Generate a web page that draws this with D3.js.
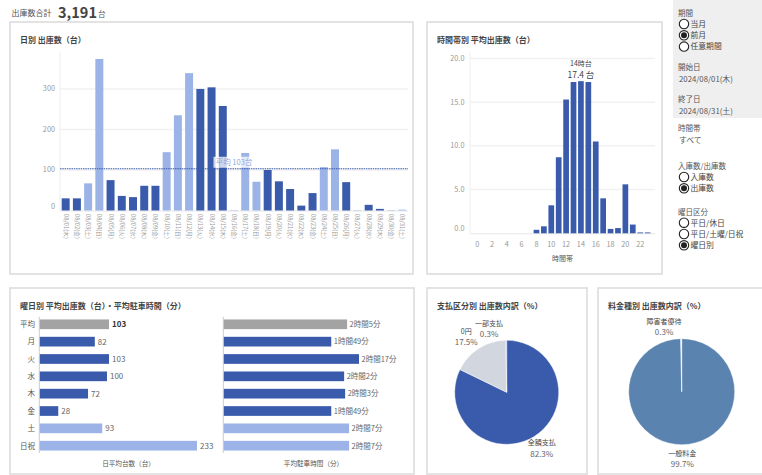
<!DOCTYPE html>
<html><head><meta charset="utf-8">
<script src="https://cdn.jsdelivr.net/npm/d3@7"></script>
<style>
body{margin:0;background:#fff;}
svg{display:block;font-family:"Noto Sans CJK JP","Noto Sans",sans-serif;}
</style></head><body>
<svg id="c" width="762" height="475"></svg>
<script>
// ---------- data ----------
const totalLabel = "出庫数合計";
const totalValue = "3,191";
const totalUnit = "台";

const days = ["08/01(木)","08/02(金)","08/03(土)","08/04(日)","08/05(月)","08/06(火)","08/07(水)","08/08(木)","08/09(金)","08/10(土)","08/11(日)","08/12(月)","08/13(火)","08/14(水)","08/15(木)","08/16(金)","08/17(土)","08/18(日)","08/19(月)","08/20(火)","08/21(水)","08/22(木)","08/23(金)","08/24(土)","08/25(日)","08/26(月)","08/27(火)","08/28(水)","08/29(木)","08/30(金)","08/31(土)"];
const dailyValues = [30,30,67,374,75,36,33,61,61,144,235,339,300,304,258,1,142,71,100,72,53,12,43,107,151,70,1,14,4,1,2];
const dailyHoliday = [0,0,1,1,0,0,0,0,0,1,1,1,0,0,0,1,1,1,0,0,0,0,0,1,1,0,1,0,0,1,1];
const dailyTicks = [0,100,200,300];
const dailyAverage = 103;

const hours = [0,1,2,3,4,5,6,7,8,9,10,11,12,13,14,15,16,17,18,19,20,21,22,23];
const hourlyValues = [0,0,0,0,0,0,0,0,0.4,0.8,3.2,8.7,15.3,17.3,17.4,17.3,10.5,4.0,0.5,0.6,5.6,1.0,0.1,0.1];
const hourTicks = [0,2,4,6,8,10,12,14,16,18,20,22];
const hourlyYTicks = [0,5,10,15,20];
const peakHourLabel = "14時台";
const peakValueLabel = "17.4 台";

const weekdayCats = ["平均","月","火","水","木","金","土","日祝"];
const weekdayCounts = [103,82,103,100,72,28,93,233];
const weekdayMinutes = [125,109,137,122,123,109,127,127];
const weekdayKind = ["avg","wd","wd","wd","wd","wd","we","we"];

const payCats = ["全額支払","0円","一部支払"];
const payShares = [82.3,17.5,0.3];
const feeCats = ["一般料金","障害者優待"];
const feeShares = [99.7,0.3];

const filterGroups = [
  {title:"期間", type:"radio", items:["当月","前月","任意期間"], checked:1},
  {title:"開始日", type:"text", items:["2024/08/01(木)"]},
  {title:"終了日", type:"text", items:["2024/08/31(土)"]},
  {title:"時間帯", type:"text", items:["すべて"]},
  {title:"入庫数/出庫数", type:"radio", items:["入庫数","出庫数"], checked:1},
  {title:"曜日区分", type:"radio", items:["平日/休日","平日/土曜/日祝","曜日別"], checked:2}
];

// ---------- style ----------
const DARK = "#3a5bab", LIGHT = "#9bb3e6", GRAYBAR = "#a3a3a3";
const svg = d3.select("#c");

// header
svg.append("text").attr("x",11.5).attr("y",16).attr("font-size",8).attr("fill","#555").text(totalLabel);
svg.append("text").attr("x",58).attr("y",17.5).attr("font-size",14.5).attr("font-weight","bold").attr("fill","#444").text(totalValue);
svg.append("text").attr("x",98).attr("y",16.5).attr("font-size",7.5).attr("fill","#555").text(totalUnit);

// filter panel
svg.append("rect").attr("x",673).attr("y",0).attr("width",89).attr("height",118).attr("fill","#efefef");
const fy = [13, 66.7, 99, 127.7, 166, 211.7];
filterGroups.forEach((g,gi)=>{
  const y0 = fy[gi];
  svg.append("text").attr("x",678).attr("y",y0+2.8).attr("font-size",7.5).attr("fill","#555").text(g.title);
  g.items.forEach((it,ii)=>{
    if(g.type==="radio"){
      const cy = y0 + 11 + ii*11.3;
      svg.append("circle").attr("cx",684).attr("cy",cy).attr("r",4.7).attr("fill","#fff").attr("stroke","#222").attr("stroke-width",1.1);
      if(ii===g.checked) svg.append("circle").attr("cx",684).attr("cy",cy).attr("r",3).attr("fill","#222");
      svg.append("text").attr("x",690.5).attr("y",cy+2.8).attr("font-size",7.8).attr("fill","#444").text(it);
    } else {
      svg.append("text").attr("x",679).attr("y",y0+15.2).attr("font-size",7.8).attr("fill","#555").text(it);
    }
  });
});

// panels
const panels = [
  {x:10,y:22,w:403,h:252,title:"日別 出庫数（台）"},
  {x:427,y:22,w:235,h:252,title:"時間帯別 平均出庫数（台）"},
  {x:10,y:288,w:404,h:186,title:"曜日別 平均出庫数（台）・平均駐車時間（分）"},
  {x:427,y:288,w:160,h:186,title:"支払区分別 出庫数内訳（%）"},
  {x:598,y:288,w:180,h:186,title:"料金種別 出庫数内訳（%）"}
];
panels.forEach(p=>{
  svg.append("rect").attr("x",p.x).attr("y",p.y).attr("width",p.w).attr("height",p.h)
    .attr("fill","#fff").attr("stroke","#e0e0e0").attr("stroke-width",1.8);
  svg.append("text").attr("x",p.x+10).attr("y",p.y+21).attr("font-size",8).attr("font-weight","bold").attr("fill","#444").text(p.title);
});

// ---------- daily chart ----------
{
  const x = d3.scaleBand().domain(days).range([60,408]).paddingInner(0.29).paddingOuter(0.15);
  const y = d3.scaleLinear().domain([0, d3.max(dailyValues)*1.05]).range([210.5,51.4]);
  const g = svg.append("g");
  g.selectAll(".gl").data(dailyTicks.filter(t=>t>0)).join("line")
    .attr("x1",60).attr("x2",408).attr("y1",d=>y(d)).attr("y2",d=>y(d)).attr("stroke","#f1f1f1").attr("stroke-width",1.5);
  g.append("line").attr("x1",60).attr("x2",60).attr("y1",y.range()[1]).attr("y2",y(0)).attr("stroke","#eee");
  g.append("line").attr("x1",60).attr("x2",408).attr("y1",y(0)+0.5).attr("y2",y(0)+0.5).attr("stroke","#e6e6e6");
  g.selectAll(".yt").data(dailyTicks).join("text").attr("x",55).attr("y",d=>y(d)+(d===0?-2:2.5))
    .attr("text-anchor","end").attr("font-size",7.3).attr("fill","#999").text(d=>d);
  g.selectAll(".bar").data(days).join("rect")
    .attr("x",d=>x(d)).attr("width",x.bandwidth())
    .attr("y",(d,i)=>y(dailyValues[i])).attr("height",(d,i)=>y(0)-y(dailyValues[i]))
    .attr("fill",(d,i)=>dailyHoliday[i]?LIGHT:DARK);
  g.selectAll(".xl").data(days).join("text")
    .attr("transform",d=>`translate(${x(d)+x.bandwidth()/2},214) rotate(90)`)
    .attr("dy","0.35em").attr("font-size",5.8).attr("fill","#999").text(d=>d);
  const ay = y(dailyAverage);
  g.append("line").attr("x1",60).attr("x2",408).attr("y1",ay).attr("y2",ay)
    .attr("stroke",DARK).attr("stroke-width",1.2).attr("stroke-dasharray","1.5,0.8");
  const cx = (60+408)/2;
  g.append("rect").attr("x",cx-20.5).attr("y",ay-12).attr("width",41).attr("height",11).attr("fill","#fff").attr("opacity",0.75);
  g.append("text").attr("x",cx).attr("y",ay-3.8).attr("text-anchor","middle").attr("font-size",7.5).attr("fill","#8ea4d8")
    .text(`平均 ${dailyAverage}台`);
}

// ---------- hourly chart ----------
{
  const x = d3.scaleBand().domain(hours).range([473.6,651.2]).paddingInner(0.23).paddingOuter(0.1);
  const y = d3.scaleLinear().domain([0, d3.max(hourlyValues)*1.195]).range([233.3,51.5]);
  const g = svg.append("g");
  g.selectAll(".gl").data(hourlyYTicks.filter(t=>t>0)).join("line")
    .attr("x1",470).attr("x2",655).attr("y1",d=>y(d)).attr("y2",d=>y(d)).attr("stroke","#f1f1f1").attr("stroke-width",1.5);
  g.append("line").attr("x1",470).attr("x2",470).attr("y1",y.range()[1]).attr("y2",y(0)).attr("stroke","#eee");
  g.append("line").attr("x1",470).attr("x2",655).attr("y1",y(0)+0.5).attr("y2",y(0)+0.5).attr("stroke","#e6e6e6");
  g.selectAll(".yt").data(hourlyYTicks).join("text").attr("x",464.5).attr("y",d=>y(d)+(d===0?-2:2.5))
    .attr("text-anchor","end").attr("font-size",7.3).attr("fill","#999").text(d=>d3.format(".1f")(d));
  g.selectAll(".bar").data(hours).join("rect")
    .attr("x",d=>x(d)).attr("width",x.bandwidth())
    .attr("y",(d,i)=>y(hourlyValues[i])).attr("height",(d,i)=>y(0)-y(hourlyValues[i]))
    .attr("fill",DARK);
  g.selectAll(".xt").data(hourTicks).join("text").attr("x",d=>x(d)+x.bandwidth()/2).attr("y",247)
    .attr("text-anchor","middle").attr("font-size",7.3).attr("fill","#999").text(d=>d);
  g.append("text").attr("x",562.5).attr("y",261).attr("text-anchor","middle").attr("font-size",7).attr("fill","#555").text("時間帯");
  const pi = hourlyValues.indexOf(d3.max(hourlyValues));
  const px = x(hours[pi])+x.bandwidth()/2;
  g.append("text").attr("x",px).attr("y",65.8).attr("text-anchor","middle").attr("font-size",7).attr("fill","#444").text(peakHourLabel);
  g.append("text").attr("x",px).attr("y",78.3).attr("text-anchor","middle").attr("font-size",8.5).attr("fill","#444").text(peakValueLabel);
}

// ---------- weekday charts ----------
{
  const y = d3.scalePoint().domain(weekdayCats).range([324.3,445.7]);
  const bh = 9.7;
  const colorOf = k => k==="avg"?GRAYBAR:(k==="wd"?DARK:LIGHT);
  const g = svg.append("g");
  // counts
  const x1 = d3.scaleLinear().domain([0, d3.max(weekdayCounts)]).range([39.3,197]);
  g.selectAll(".cl").data(weekdayCats).join("text").attr("x",35).attr("y",d=>y(d)+2.8)
    .attr("text-anchor","end").attr("font-size",7.5).attr("fill","#555").text(d=>d);
  g.selectAll(".b1").data(weekdayCats).join("rect").attr("x",x1(0)).attr("y",d=>y(d)-bh/2).attr("height",bh)
    .attr("width",(d,i)=>x1(weekdayCounts[i])-x1(0)).attr("fill",(d,i)=>colorOf(weekdayKind[i]));
  g.selectAll(".v1").data(weekdayCats).join("text").attr("x",(d,i)=>x1(weekdayCounts[i])+3).attr("y",d=>y(d)+3)
    .attr("font-size",8).attr("fill",(d,i)=>i===0?"#333":"#666").attr("font-weight",(d,i)=>i===0?"bold":"normal")
    .text((d,i)=>weekdayCounts[i]);
  g.append("line").attr("x1",39.3).attr("x2",39.3).attr("y1",316.7).attr("y2",453).attr("stroke","#ccc");
  g.append("text").attr("x",128.5).attr("y",465.5).attr("text-anchor","middle").attr("font-size",6.6).attr("fill","#555").text("日平均台数（台）");
  // minutes
  const x2 = d3.scaleLinear().domain([0, d3.max(weekdayMinutes)]).range([223.3,359]);
  const fmt = m => `${Math.floor(m/60)}時間${m%60}分`;
  g.selectAll(".b2").data(weekdayCats).join("rect").attr("x",x2(0)).attr("y",d=>y(d)-bh/2).attr("height",bh)
    .attr("width",(d,i)=>x2(weekdayMinutes[i])-x2(0)).attr("fill",(d,i)=>colorOf(weekdayKind[i]));
  g.selectAll(".v2").data(weekdayCats).join("text").attr("x",(d,i)=>x2(weekdayMinutes[i])+2.5).attr("y",d=>y(d)+2.8)
    .attr("font-size",7.5).attr("fill","#666").text((d,i)=>fmt(weekdayMinutes[i]));
  g.append("line").attr("x1",223.3).attr("x2",223.3).attr("y1",316.7).attr("y2",453).attr("stroke","#ccc");
  g.append("text").attr("x",313.5).attr("y",465.5).attr("text-anchor","middle").attr("font-size",6.6).attr("fill","#555").text("平均駐車時間（分）");
}

// ---------- pies ----------
function drawPie(cx, cy, r, cats, shares, colors){
  const pie = d3.pie().sort(null).value(d=>d);
  const arcs = pie(shares);
  const arc = d3.arc().innerRadius(0).outerRadius(r);
  const g = svg.append("g").attr("transform",`translate(${cx},${cy})`);
  g.selectAll("path").data(arcs).join("path").attr("d",arc).attr("fill",(d,i)=>colors[i])
    .attr("stroke","#fff").attr("stroke-width",0.4);
  const R = r + 14;
  arcs.forEach((a,i)=>{
    const m = (a.startAngle+a.endAngle)/2;
    let lx = R*Math.sin(m), ly = -R*Math.cos(m);
    if(shares[i] < 2){ lx -= 17; ly += 2; }
    else if(lx < 0){ lx -= 5; }
    g.append("text").attr("x",lx).attr("y",ly-2.8).attr("text-anchor","middle").attr("font-size",7).attr("fill","#444").text(cats[i]);
    g.append("text").attr("x",lx).attr("y",ly+8.3).attr("text-anchor","middle").attr("font-size",8).attr("fill","#666").text(shares[i]+"%");
  });
}
drawPie(506.7, 392.3, 52, payCats, payShares, [DARK, "#d2d7df", LIGHT]);
drawPie(681.7, 391.7, 53, feeCats, feeShares, ["#5b83b0", "#e4ebf5"]);
</script>
</body></html>
